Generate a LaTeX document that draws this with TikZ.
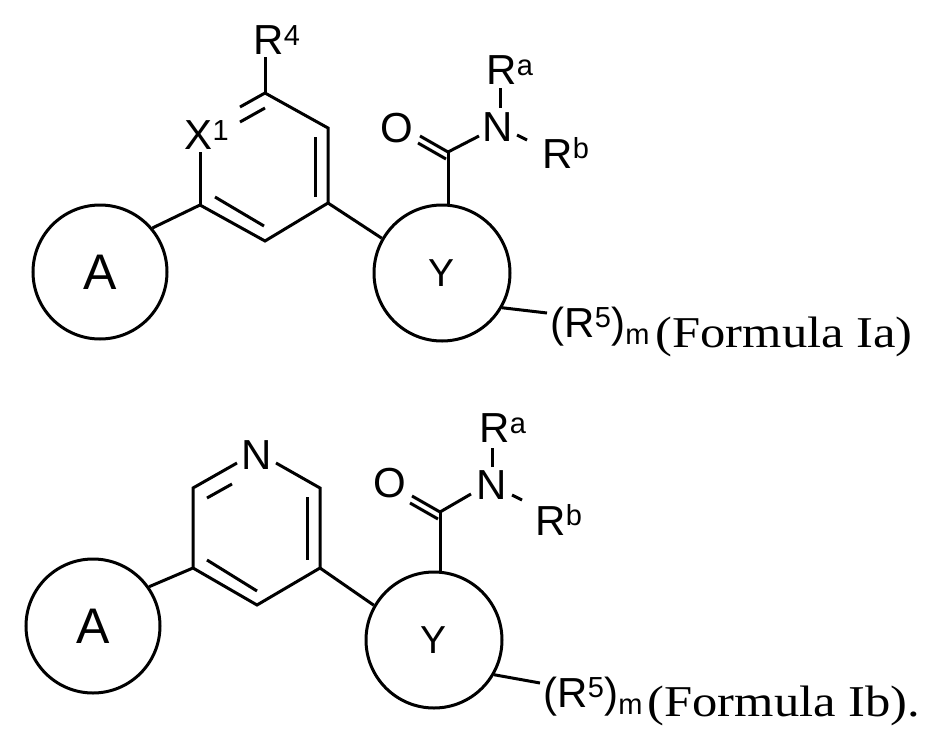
\documentclass[tikz,border=0pt]{standalone}
\usepackage{fontspec}
\setmainfont{Liberation Sans}
\newfontfamily\tnr[FakeStretch=1.15]{Liberation Serif}
\newcommand{\sps}[1]{\textsuperscript{\fontsize{29}{29}\selectfont #1}}
\begin{document}
\begin{tikzpicture}[x=1pt,y=-1pt,line width=3pt,
  lab/.style={inner sep=0pt,font=\fontsize{42}{44}\selectfont},
  frm/.style={inner sep=0pt,anchor=base west,font=\tnr\fontsize{44}{48}\selectfont},
  ring/.style={draw,circle,minimum size=134pt,inner sep=0pt,font=\fontsize{50}{50}\selectfont},
  yring/.style={draw,circle,minimum size=136pt,inner sep=0pt,font=\fontsize{39}{40}\selectfont}]
\useasboundingbox (0,0) rectangle (930,745);
% ---------- Formula Ia
\node[ring] (A1) at (100,272) {A};
\node[yring] (Y1) at (442,273) {Y};
\coordinate (a1) at (200,205); \coordinate (a2) at (265,241); \coordinate (a3) at (328,203);
\coordinate (a4) at (328,128); \coordinate (a5) at (265,93);
\node[lab] (X1) at (207,135) {X\sps{1}};
\node[lab] (R4) at (277,40) {R\sps{4}};
\draw (A1.40) -- (a1) -- (a2) -- (a3) -- (a4) -- (a5) -- (240,107);
\draw (a1) -- (200,152);
\draw (215,197) -- (264,226); \draw (315,137) -- (315,197); \draw (240,122) -- (265,108);
\draw (a5) -- (265,57);
\draw (a3) -- (Y1.150);
\coordinate (c1) at (448,152);
\draw (c1) -- (448,205.5);
\node[lab] (O1) at (397,128) {O};
\node[lab] (N1) at (498,127) {N};
\node[lab] (Ra1) at (510,70) {R\sps{a}};
\node[lab] (Rb1) at (566,153) {R\sps{b}};
\draw (c1) -- (479,136);
\draw (c1) -- (420,136); \draw (446,159) -- (418,143);
\draw (500,108) -- (500,88);
\draw (517,135) -- (527,140);
\draw (Y1.-30) -- (547,313);
\node[lab,anchor=base west] (L1) at (549,337) {(R\sps{5})\textsubscript{\fontsize{29}{29}\selectfont m}};
\node[frm] (F1) at (654,347) {(Formula Ia)};
% ---------- Formula Ib
\node[ring] (A2) at (93,626) {A};
\node[yring] (Y2) at (434,640) {Y};
\coordinate (b1) at (193,568); \coordinate (b2) at (257,605); \coordinate (b3) at (320,568);
\coordinate (b4) at (320,488); \coordinate (b6) at (193,488);
\node[lab] (N2) at (257,455) {N};
\draw (A2.35) -- (b1) -- (b2) -- (b3) -- (b4) -- (276,463);
\draw (b1) -- (b6) -- (237,463);
\draw (207,498) -- (232,484); \draw (307,497) -- (307,560); \draw (207,560) -- (257,591);
\draw (b3) -- (Y2.150);
\coordinate (c2) at (440,512);
\draw (c2) -- (440,572.5);
\node[lab] (O2) at (390,483) {O};
\node[lab] (N3) at (492,485) {N};
\node[lab] (Ra2) at (503,428) {R\sps{a}};
\node[lab] (Rb2) at (559,520) {R\sps{b}};
\draw (c2) -- (471,494);
\draw (c2) -- (412,496); \draw (438,519) -- (410,503);
\draw (492,467) -- (492,448);
\draw (512,495) -- (522,500);
\draw (Y2.-30) -- (540,683);
\node[lab,anchor=base west] (L2) at (542,707) {(R\sps{5})\textsubscript{\fontsize{29}{29}\selectfont m}};
\node[frm] (F2) at (646,716) {(Formula Ib).};
\end{tikzpicture}
\end{document}
